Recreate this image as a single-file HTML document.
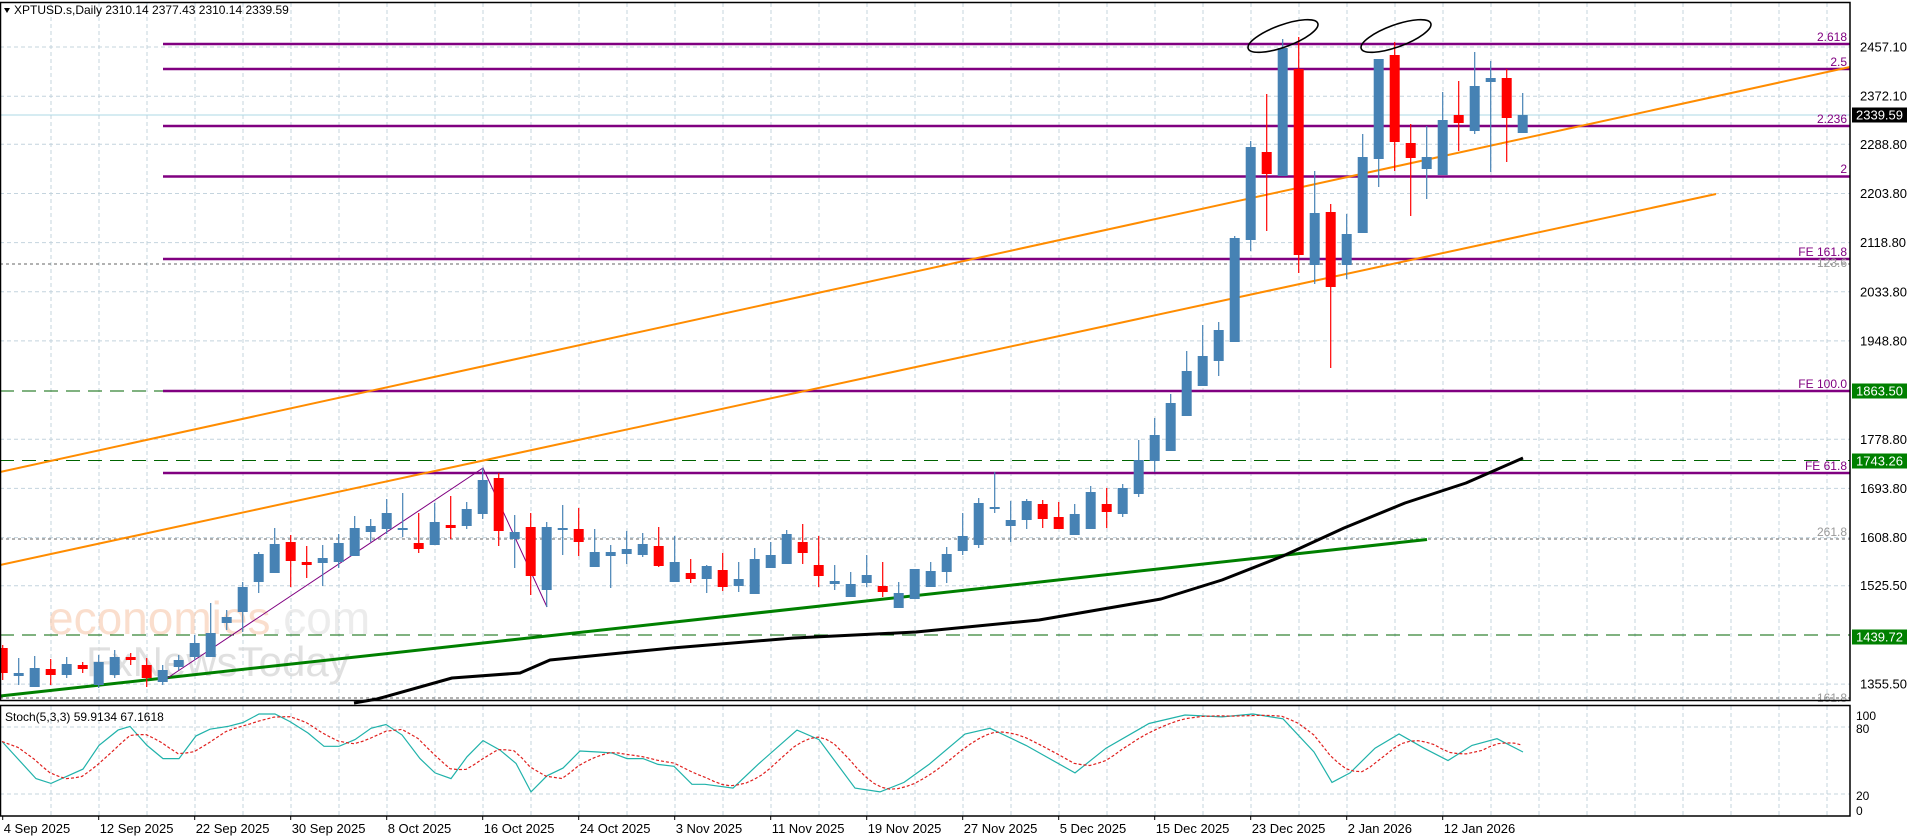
<!DOCTYPE html>
<html><head><meta charset="utf-8"><style>
html,body{margin:0;padding:0;background:#fff;}
svg{display:block;font-family:"Liberation Sans",sans-serif;}
</style></head><body>
<svg id="c" width="1916" height="840" xmlns="http://www.w3.org/2000/svg"></svg>
<script>
var W=[];
function P(s){W.push(s);}
function yp(p){return 47+(2457.1-p)*0.5783;}
var R=1850;
P('<rect x="0" y="0" width="1916" height="840" fill="#fff"/>');
var labels=[2457.10,2372.10,2288.80,2203.80,2118.80,2033.80,1948.80,1778.80,1693.80,1608.80,1525.50,1355.50];
labels.forEach(function(p){var y=yp(p).toFixed(1);P('<line x1="0" x2="'+R+'" y1="'+y+'" y2="'+y+'" stroke="#c4d4de" stroke-dasharray="4,3"/>');});
[727,794].forEach(function(y){P('<line x1="0" x2="'+R+'" y1="'+y+'" y2="'+y+'" stroke="#c4d4de" stroke-dasharray="4,3"/>');});
for(var x=51;x<R;x+=48){P('<line x1="'+x+'" x2="'+x+'" y1="3" y2="700" stroke="#c4d4de" stroke-dasharray="4,3"/><line x1="'+x+'" x2="'+x+'" y1="706" y2="815" stroke="#c4d4de" stroke-dasharray="4,3"/>');}
P('<text x="48" y="634" font-size="46" fill="#f7c9ad" opacity="0.6">economies<tspan fill="#e0e0e0">.com</tspan></text>');
P('<text x="86" y="676" font-size="42" fill="#d9d9d9" opacity="0.8">FxNewsToday</text>');
function hl(y,x1,col,dash,w){P('<line x1="'+x1+'" x2="'+R+'" y1="'+y+'" y2="'+y+'" stroke="'+col+'" stroke-width="'+(w||1)+'" stroke-dasharray="'+dash+'"/>');}
hl(264,0,'#666','3,3');hl(539,0,'#666','3,3');hl(698,0,'#666','3,3');
hl(391,0,'#006400','14,8');hl(460.5,0,'#006400','14,8');hl(635,0,'#006400','14,8');
hl(115,0,'#add8e6','none');
[44,69,126,176.5,259,391,473].forEach(function(y){hl(y,163,'#800080','none',2.5);});
P('<line x1="0" y1="472" x2="1850" y2="67" stroke="#ff8c00" stroke-width="2"/>');
P('<line x1="0" y1="565" x2="1716" y2="194" stroke="#ff8c00" stroke-width="2"/>');
P('<line x1="0" y1="696" x2="1427" y2="539.5" stroke="#008000" stroke-width="3"/>');
P('<polyline points="163,681 483,468 547,607" fill="none" stroke="#800080" stroke-width="1"/>');
var C=[
[648,673,645,680,'r'],[673,676,658,685,'b'],[668,687,656,687,'b'],[669,675,659,685,'r'],[664,675,657,678,'b'],
[665,669,662,673,'r'],[662,685,655,688,'b'],[657,675,650,678,'b'],[657,660,653,665,'r'],[665,678,658,687,'r'],
[670,682,665,685,'b'],[660,667,655,670,'b'],[643,657,635,660,'b'],[633,657,603,657,'b'],[617,623,610,630,'b'],
[587,612,582,632,'b'],[554,582,552,593,'b'],[544,573,528,573,'b'],[542,561,535,587,'r'],[562,565,546,578,'r'],
[558,563,545,586,'b'],[543,562,534,568,'b'],[528,556,516,556,'b'],[526,532,519,542,'b'],[513,529,499,534,'b'],
[528,530,493,537,'b'],[543,549,513,553,'r'],[522,545,503,545,'b'],[525,528,496,539,'r'],[509,526,502,529,'b'],
[480,514,468,519,'b'],[478,531,473,546,'r'],[532,539,515,568,'b'],[527,576,513,595,'r'],[527,590,522,607,'b'],
[528,530,505,555,'b'],[529,542,508,556,'r'],[552,567,529,567,'b'],[552,556,545,588,'b'],[549,554,531,564,'b'],
[544,555,533,557,'b'],[546,566,527,567,'r'],[562,582,536,582,'b'],[573,579,559,583,'r'],[566,579,565,593,'b'],
[570,587,553,591,'r'],[579,586,562,592,'b'],[559,594,548,594,'b'],[555,568,542,568,'b'],[534,564,530,564,'b'],
[542,553,524,564,'r'],[565,576,536,587,'r'],[581,584,565,590,'b'],[584,597,572,597,'b'],[575,583,555,587,'b'],
[586,592,562,597,'r'],[593,608,582,608,'b'],[569,599,569,599,'b'],[571,587,562,587,'b'],[554,572,547,583,'b'],
[536,551,513,555,'b'],[503,545,498,548,'b'],[507,509,472,513,'b'],[520,526,501,542,'b'],[501,520,499,529,'b'],
[504,519,500,528,'r'],[517,529,502,529,'r'],[514,535,504,535,'b'],[492,529,486,529,'b'],[504,512,488,528,'r'],
[488,514,484,517,'b'],[460,494,440,497,'b'],[435,461,418,472,'b'],[403,451,394,451,'b'],[371,416,351,416,'b'],
[356,386,325,386,'b'],[330,361,322,376,'b'],[238,342,236,342,'b'],[147,240,141,251,'b'],[152,174,94,231,'r'],
[48,176,39,176,'b'],[69,255,37,273,'r'],[213,265,171,284,'b'],[212,287,204,368,'r'],[234,265,214,279,'b'],
[157,233,134,233,'b'],[59,159,59,187,'b'],[55,142,42,171,'r'],[143,158,124,216,'r'],[157,169,126,199,'b'],
[120,175,92,175,'b'],[115,123,81,151,'r'],[86,131,52,134,'b'],[78,82,61,172,'b'],[78,118,69,162,'r'],[115,133,93,133,'b']];
C.forEach(function(c,i){var x=2.7+16*i;var col=c[4]=='r'?'#ff0000':'#4682b4';
P('<line x1="'+x+'" x2="'+x+'" y1="'+c[2]+'" y2="'+c[3]+'" stroke="'+col+'" stroke-width="1.2"/>');
P('<rect x="'+(x-5)+'" y="'+c[0]+'" width="10" height="'+Math.max(2,c[1]-c[0])+'" fill="'+col+'"/>');});
P('<polyline points="354,703 377,699 452,678 520,673 550,660 672,648 794,638 916,632 1039,620 1161,599 1222,580 1283,556 1344,528 1405,503 1466,483 1523,458" fill="none" stroke="#000" stroke-width="3" stroke-linejoin="round"/>');
P('<ellipse cx="1283" cy="36" rx="37" ry="11" transform="rotate(-20 1283 36)" fill="none" stroke="#000" stroke-width="1.6"/>');
P('<ellipse cx="1396" cy="36" rx="37" ry="11" transform="rotate(-20 1396 36)" fill="none" stroke="#000" stroke-width="1.6"/>');
function ft(t,y,col){P('<text x="1847" y="'+y+'" font-size="12" fill="'+col+'" text-anchor="end">'+t+'</text>');}
ft('2.618',41,'#800080');ft('2.5',66,'#800080');ft('2.236',123,'#800080');ft('2',173,'#800080');
ft('FE 161.8',256,'#800080');ft('123.6',267,'#999');ft('FE 100.0',388,'#800080');ft('FE 61.8',470,'#800080');
ft('261.8',536,'#999');ft('161.8',702,'#999');
P('<rect x="0.5" y="2.5" width="'+(R-0.5)+'" height="698" fill="none" stroke="#000" stroke-width="1.5"/>');
P('<rect x="0.5" y="705.5" width="'+(R-0.5)+'" height="110.5" fill="none" stroke="#000" stroke-width="1.5"/>');
labels.forEach(function(p){P('<text x="1860" y="'+(yp(p)+4.5).toFixed(1)+'" font-size="13" fill="#000">'+p.toFixed(2)+'</text>');});
function box(y,t,bg){P('<rect x="1852" y="'+(y-7.5)+'" width="55" height="15" fill="'+bg+'"/><text x="1856" y="'+(y+4.5)+'" font-size="13" fill="#fff">'+t+'</text>');}
box(115,'2339.59','#000');box(391,'1863.50','#008000');box(461,'1743.26','#008000');box(637,'1439.72','#008000');
[['100',716],['80',729],['20',796],['0',811]].forEach(function(a){P('<text x="1856" y="'+(a[1]+4)+'" font-size="12" fill="#000">'+a[0]+'</text>');});
function ys(v){return 809-v*0.95;}
var K=[[2,71],[36,32],[51,27],[83,42],[99,67],[118,83],[130,87],[147,67],[163,53],[179,53],[196,77],[210,84],[228,87],[243,91],[259,100],[275,100],[290,92],[308,80],[324,66],[339,66],[355,73],[371,85],[386,89],[402,78],[420,53],[435,38],[451,32],[467,55],[483,72],[500,62],[516,48],[531,18],[547,35],[563,43],[580,61],[598,60],[612,59],[627,53],[643,53],[658,47],[674,45],[692,26],[705,26],
[733,22],[758,47],[797,83],[819,73],[855,22],[880,18],[904,28],[929,47],[965,79],[990,85],[1026,67],[1075,38],[1106,64],[1149,90],[1185,99],[1222,97],[1253,100],[1283,95],[1314,60],[1332,28],[1350,38],[1375,64],[1399,79],[1424,64],[1448,51],[1472,67],[1497,74],[1523,60]];
function kAt(x){if(x<=K[0][0])return K[0][1];for(var i=1;i<K.length;i++){if(x<=K[i][0]){var a=K[i-1],b=K[i];return a[1]+(b[1]-a[1])*(x-a[0])/(b[0]-a[0]);}}return K[K.length-1][1];}
P('<polyline points="'+K.map(function(p){return p[0]+','+ys(p[1]).toFixed(1);}).join(' ')+'" fill="none" stroke="#20b2aa" stroke-width="1.2"/>');
var D=[];for(var x=2;x<=1523;x+=8){var v=(kAt(x)+kAt(x-16)+kAt(x-32))/3;D.push(x+','+ys(v).toFixed(1));}
P('<polyline points="'+D.join(' ')+'" fill="none" stroke="#e0201e" stroke-width="1.2" stroke-dasharray="3,2"/>');
P('<text x="5" y="721" font-size="12" fill="#000">Stoch(5,3,3) 59.9134 67.1618</text>');
P('<polygon points="4,8 10,8 7,13" fill="#000"/>');
P('<text x="14" y="14" font-size="12" fill="#000">XPTUSD.s,Daily  2310.14 2377.43 2310.14 2339.59</text>');
var dates=['4 Sep 2025','12 Sep 2025','22 Sep 2025','30 Sep 2025','8 Oct 2025','16 Oct 2025','24 Oct 2025','3 Nov 2025','11 Nov 2025','19 Nov 2025','27 Nov 2025','5 Dec 2025','15 Dec 2025','23 Dec 2025','2 Jan 2026','12 Jan 2026'];
dates.forEach(function(d,k){var x=2.7+96*k;P('<line x1="'+x+'" x2="'+x+'" y1="816" y2="820" stroke="#000"/><text x="'+(x+1)+'" y="833" font-size="13" fill="#000">'+d+'</text>');});
document.getElementById('c').innerHTML=W.join('');
</script>
</body></html>
